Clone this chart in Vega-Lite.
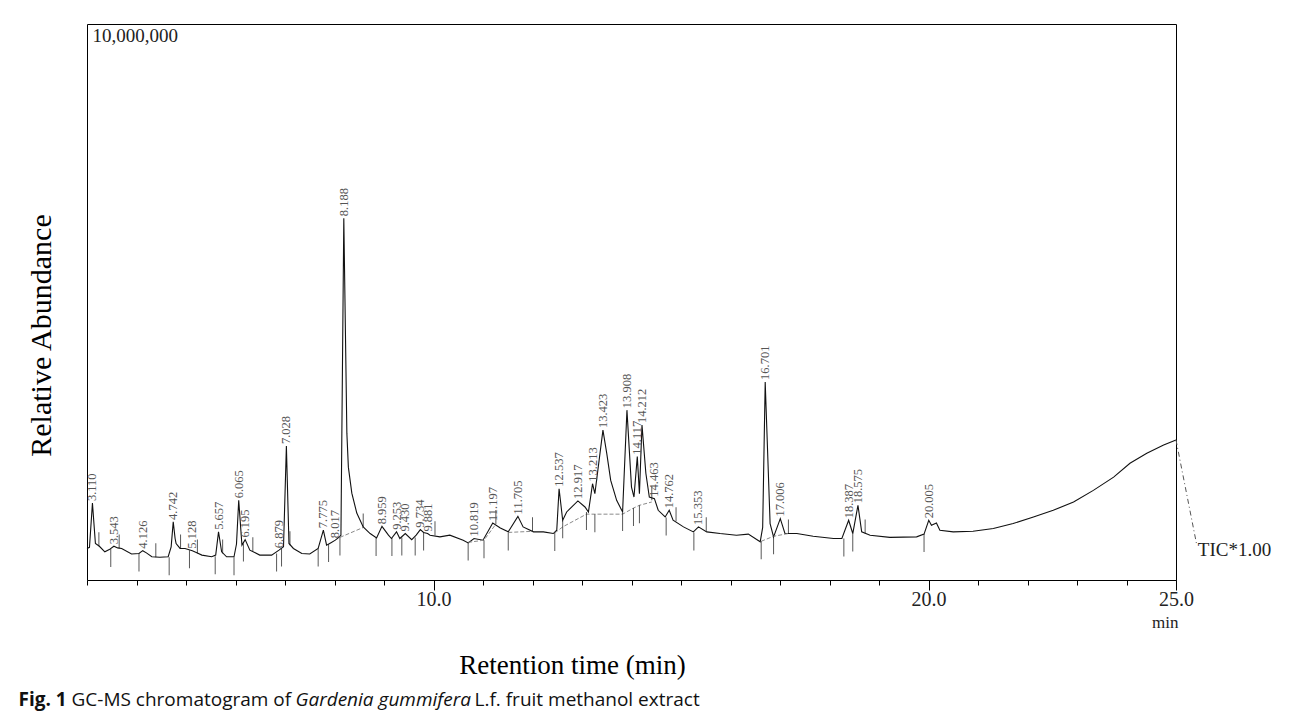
{
  "$schema": "https://vega.github.io/schema/vega-lite/v6.json",
  "width": 1089,
  "height": 556,
  "autosize": "none",
  "padding": {"left": 87, "top": 24, "right": 114, "bottom": 131},
  "background": "white",
  "config": {
    "view": {"stroke": "#000", "strokeWidth": 1},
    "axis": {"grid": false, "domain": false, "labelFlush": false, "tickColor": "#000", "labelColor": "#111", "titleColor": "#000", "labelFont": "Liberation Serif", "titleFont": "Liberation Serif", "titleFontWeight": "normal"}
  },
  "datasets": {
    "trace": [
      {"t":3.00,"v":0.52},{"t":3.05,"v":0.54},{"t":3.11,"v":1.34},{"t":3.17,"v":0.61},{"t":3.25,"v":0.56},{"t":3.36,"v":0.46},{"t":3.45,"v":0.50},{"t":3.543,"v":0.56},{"t":3.62,"v":0.53},{"t":3.70,"v":0.52},{"t":3.90,"v":0.42},{"t":4.05,"v":0.43},{"t":4.126,"v":0.48},{"t":4.20,"v":0.44},{"t":4.31,"v":0.37},{"t":4.47,"v":0.36},{"t":4.64,"v":0.37},{"t":4.70,"v":0.55},{"t":4.742,"v":1.00},{"t":4.78,"v":0.70},{"t":4.80,"v":0.61},{"t":4.88,"v":0.52},{"t":4.98,"v":0.52},{"t":5.128,"v":0.48},{"t":5.23,"v":0.44},{"t":5.32,"v":0.40},{"t":5.52,"v":0.37},{"t":5.60,"v":0.40},{"t":5.657,"v":0.82},{"t":5.72,"v":0.46},{"t":5.82,"v":0.37},{"t":5.97,"v":0.37},{"t":6.02,"v":0.60},{"t":6.065,"v":1.39},{"t":6.13,"v":0.58},{"t":6.195,"v":0.68},{"t":6.29,"v":0.49},{"t":6.49,"v":0.40},{"t":6.73,"v":0.40},{"t":6.879,"v":0.49},{"t":6.97,"v":0.55},{"t":7.028,"v":2.37},{"t":7.08,"v":0.61},{"t":7.17,"v":0.52},{"t":7.34,"v":0.43},{"t":7.50,"v":0.42},{"t":7.67,"v":0.52},{"t":7.775,"v":0.85},{"t":7.84,"v":0.58},{"t":7.92,"v":0.62},{"t":8.017,"v":0.67},{"t":8.10,"v":0.73},{"t":8.13,"v":0.76},{"t":8.188,"v":6.49},{"t":8.25,"v":2.60},{"t":8.28,"v":1.99},{"t":8.35,"v":1.52},{"t":8.45,"v":1.16},{"t":8.58,"v":0.91},{"t":8.72,"v":0.79},{"t":8.85,"v":0.71},{"t":8.959,"v":0.92},{"t":9.09,"v":0.76},{"t":9.15,"v":0.70},{"t":9.253,"v":0.82},{"t":9.32,"v":0.70},{"t":9.43,"v":0.79},{"t":9.56,"v":0.68},{"t":9.65,"v":0.76},{"t":9.734,"v":0.86},{"t":9.80,"v":0.81},{"t":9.881,"v":0.79},{"t":9.93,"v":0.76},{"t":10.13,"v":0.73},{"t":10.33,"v":0.76},{"t":10.60,"v":0.67},{"t":10.70,"v":0.62},{"t":10.819,"v":0.70},{"t":11.00,"v":0.67},{"t":11.197,"v":0.98},{"t":11.35,"v":0.89},{"t":11.51,"v":0.82},{"t":11.705,"v":1.10},{"t":11.81,"v":0.91},{"t":12.02,"v":0.82},{"t":12.22,"v":0.82},{"t":12.42,"v":0.79},{"t":12.49,"v":0.85},{"t":12.537,"v":1.60},{"t":12.61,"v":1.03},{"t":12.69,"v":1.18},{"t":12.917,"v":1.38},{"t":13.06,"v":1.27},{"t":13.13,"v":1.18},{"t":13.213,"v":1.69},{"t":13.26,"v":1.51},{"t":13.423,"v":2.66},{"t":13.50,"v":2.24},{"t":13.58,"v":1.75},{"t":13.70,"v":1.39},{"t":13.82,"v":1.18},{"t":13.908,"v":3.02},{"t":14.00,"v":1.63},{"t":14.05,"v":1.45},{"t":14.117,"v":2.18},{"t":14.16,"v":1.51},{"t":14.212,"v":2.75},{"t":14.29,"v":1.88},{"t":14.36,"v":1.45},{"t":14.463,"v":1.42},{"t":14.54,"v":1.21},{"t":14.68,"v":1.09},{"t":14.762,"v":1.21},{"t":14.84,"v":1.03},{"t":15.05,"v":0.91},{"t":15.25,"v":0.82},{"t":15.353,"v":0.91},{"t":15.52,"v":0.82},{"t":15.79,"v":0.79},{"t":16.12,"v":0.76},{"t":16.36,"v":0.78},{"t":16.60,"v":0.64},{"t":16.65,"v":0.90},{"t":16.701,"v":3.53},{"t":16.80,"v":0.97},{"t":16.87,"v":0.73},{"t":17.006,"v":1.06},{"t":17.10,"v":0.79},{"t":17.34,"v":0.79},{"t":17.67,"v":0.74},{"t":18.08,"v":0.70},{"t":18.25,"v":0.70},{"t":18.387,"v":1.03},{"t":18.47,"v":0.79},{"t":18.575,"v":1.30},{"t":18.65,"v":0.82},{"t":18.82,"v":0.76},{"t":19.22,"v":0.72},{"t":19.76,"v":0.73},{"t":19.91,"v":0.78},{"t":20.005,"v":1.03},{"t":20.06,"v":0.94},{"t":20.16,"v":0.98},{"t":20.23,"v":0.85},{"t":20.50,"v":0.82},{"t":20.90,"v":0.83},{"t":21.31,"v":0.88},{"t":21.71,"v":0.97},{"t":22.12,"v":1.09},{"t":22.52,"v":1.21},{"t":22.93,"v":1.36},{"t":23.33,"v":1.57},{"t":23.74,"v":1.81},{"t":24.07,"v":2.06},{"t":24.41,"v":2.24},{"t":24.75,"v":2.39},{"t":25.00,"v":2.48}
    ],
    "peaks": [
      {"t":3.110,"v":1.34},{"t":3.543,"v":0.56},{"t":4.126,"v":0.48},{"t":4.742,"v":1.00},{"t":5.128,"v":0.48},{"t":5.657,"v":0.82},{"t":6.065,"v":1.39},{"t":6.195,"v":0.68},{"t":6.879,"v":0.49},{"t":7.028,"v":2.37},{"t":7.775,"v":0.85},{"t":8.017,"v":0.67},{"t":8.188,"v":6.49},{"t":8.959,"v":0.92},{"t":9.253,"v":0.82},{"t":9.430,"v":0.79},{"t":9.734,"v":0.86},{"t":9.881,"v":0.79},{"t":10.819,"v":0.70},{"t":11.197,"v":0.98},{"t":11.705,"v":1.10},{"t":12.537,"v":1.60},{"t":12.917,"v":1.38},{"t":13.213,"v":1.69},{"t":13.423,"v":2.66},{"t":13.908,"v":3.02},{"t":14.117,"v":2.18},{"t":14.212,"v":2.75},{"t":14.463,"v":1.42},{"t":14.762,"v":1.21},{"t":15.353,"v":0.91},{"t":16.701,"v":3.53},{"t":17.006,"v":1.06},{"t":18.387,"v":1.03},{"t":18.575,"v":1.30},{"t":20.005,"v":1.03}
    ],
    "bounds": [
      {"t":3.24,"v":0.56,"dir":"up"},{"t":3.48,"v":0.51,"dir":"down"},{"t":3.65,"v":0.52,"dir":"up"},{"t":4.05,"v":0.43,"dir":"down"},{"t":4.39,"v":0.36,"dir":"up"},{"t":4.66,"v":0.36,"dir":"down"},{"t":4.89,"v":0.52,"dir":"up"},{"t":5.07,"v":0.49,"dir":"down"},{"t":5.23,"v":0.43,"dir":"up"},{"t":5.59,"v":0.38,"dir":"down"},{"t":5.74,"v":0.43,"dir":"up"},{"t":5.97,"v":0.36,"dir":"down"},{"t":6.16,"v":0.61,"dir":"down"},{"t":6.35,"v":0.47,"dir":"up"},{"t":6.83,"v":0.43,"dir":"down"},{"t":6.93,"v":0.52,"dir":"down"},{"t":7.10,"v":0.58,"dir":"up"},{"t":7.67,"v":0.52,"dir":"down"},{"t":7.88,"v":0.60,"dir":"down"},{"t":8.11,"v":0.72,"dir":"down"},{"t":8.58,"v":0.90,"dir":"up"},{"t":8.84,"v":0.71,"dir":"down"},{"t":9.16,"v":0.71,"dir":"down"},{"t":9.36,"v":0.72,"dir":"down"},{"t":9.63,"v":0.72,"dir":"down"},{"t":9.80,"v":0.81,"dir":"down"},{"t":10.03,"v":0.76,"dir":"up"},{"t":10.70,"v":0.63,"dir":"down"},{"t":11.02,"v":0.67,"dir":"down"},{"t":11.26,"v":0.96,"dir":"up"},{"t":11.51,"v":0.81,"dir":"down"},{"t":12.00,"v":0.83,"dir":"up"},{"t":12.45,"v":0.80,"dir":"down"},{"t":12.61,"v":1.03,"dir":"down"},{"t":13.09,"v":1.18,"dir":"down"},{"t":13.26,"v":1.14,"dir":"down"},{"t":13.82,"v":1.16,"dir":"down"},{"t":14.04,"v":1.25,"dir":"down"},{"t":14.16,"v":1.30,"dir":"down"},{"t":14.41,"v":1.39,"dir":"up"},{"t":14.70,"v":1.08,"dir":"down"},{"t":14.90,"v":1.01,"dir":"up"},{"t":15.26,"v":0.81,"dir":"down"},{"t":15.51,"v":0.83,"dir":"up"},{"t":16.62,"v":0.65,"dir":"down"},{"t":16.87,"v":0.74,"dir":"down"},{"t":17.17,"v":0.79,"dir":"up"},{"t":18.29,"v":0.70,"dir":"down"},{"t":18.47,"v":0.79,"dir":"down"},{"t":18.72,"v":0.79,"dir":"up"},{"t":19.91,"v":0.78,"dir":"down"}
    ],
    "baseline": [
      {"seg":"a","t":8.11,"v":0.72},{"seg":"a","t":8.58,"v":0.90},
      {"seg":"b","t":12.45,"v":0.80},{"seg":"b","t":12.61,"v":0.91},{"seg":"b","t":13.09,"v":1.14},{"seg":"b","t":13.26,"v":1.14},{"seg":"b","t":13.82,"v":1.14},{"seg":"b","t":14.04,"v":1.25},{"seg":"b","t":14.16,"v":1.30},{"seg":"b","t":14.41,"v":1.36},
      {"seg":"c","t":11.51,"v":0.81},{"seg":"c","t":12.00,"v":0.83},
      {"seg":"d","t":10.70,"v":0.63},{"seg":"d","t":11.02,"v":0.67},{"seg":"d","t":11.26,"v":0.96},
      {"seg":"e","t":16.62,"v":0.65},{"seg":"e","t":16.87,"v":0.74},{"seg":"e","t":17.17,"v":0.79}
    ],
    "tic": [
      {"t":25.00,"v":2.48},{"t":25.42,"v":0.58}
    ],
    "ticlabel": [
      {"t":25.44,"v":0.50,"label":"TIC*1.00"}
    ]
  },
  "resolve": {"axis": {"x": "independent", "y": "independent"}},
  "layer": [
    {
      "data": {"name": "trace"},
      "mark": {"type": "line", "color": "#111", "strokeWidth": 1.1, "interpolate": "linear"},
      "encoding": {
        "x": {"field": "t", "type": "quantitative", "scale": {"domain": [3, 25], "nice": false, "zero": false},
              "axis": {"orient": "bottom", "values": [3,4,5,6,7,8,9,10,11,12,13,14,15,16,17,18,19,20,21,22,23,24,25], "tickSize": 5, "labels": false, "title": null}},
        "y": {"field": "v", "type": "quantitative", "scale": {"domain": [-0.05, 10], "nice": false, "zero": false},
              "axis": {"orient": "left", "values": [10], "labelExpr": "'10,000,000'", "ticks": false, "tickSize": 0, "labelAlign": "left", "labelBaseline": "top", "labelPadding": -5, "labelOffset": 2, "labelFontSize": 19, "labelColor": "#222",
                       "title": "Relative Abundance", "titleFontSize": 30, "titleAngle": 270, "titleAlign": "center", "titleBaseline": "middle", "titleX": -46, "titleY": 311}}
      }
    },
    {
      "data": {"name": "baseline"},
      "mark": {"type": "line", "color": "#8a8a8a", "strokeWidth": 1, "strokeDash": [4, 2]},
      "encoding": {
        "detail": {"field": "seg"},
        "x": {"field": "t", "type": "quantitative",
              "axis": {"orient": "bottom", "values": [10, 20, 25], "tickSize": 10, "format": ".1f", "labelFontSize": 20, "labelPadding": -1, "labelBaseline": "top", "labelColor": "#222",
                       "title": "Retention time (min)", "titleFontSize": 27, "titleX": 485, "titleY": 93, "titleAlign": "center", "titleBaseline": "alphabetic"}},
        "y": {"field": "v", "type": "quantitative", "axis": null}
      }
    },
    {
      "data": {"name": "bounds"},
      "transform": [{"filter": "datum.dir == 'down'"}],
      "mark": {"type": "tick", "orient": "vertical", "size": 18, "thickness": 1, "yOffset": 9, "color": "#111"},
      "encoding": {
        "x": {"field": "t", "type": "quantitative",
              "axis": {"orient": "bottom", "values": [25], "labelExpr": "'min'", "ticks": false, "tickSize": 0, "labelAlign": "right", "labelBaseline": "alphabetic", "labelPadding": 47, "labelOffset": 2, "labelFontSize": 17, "labelColor": "#222", "title": null}},
        "y": {"field": "v", "type": "quantitative", "axis": null}
      }
    },
    {
      "data": {"name": "bounds"},
      "transform": [{"filter": "datum.dir == 'up'"}],
      "mark": {"type": "tick", "orient": "vertical", "size": 14, "thickness": 1, "yOffset": -7, "color": "#111"},
      "encoding": {
        "x": {"field": "t", "type": "quantitative",
              "axis": {"orient": "bottom", "labels": false, "ticks": false, "values": [], "title": "Fig. 1", "titleFont": "Open Sans", "titleFontWeight": "bold", "titleFontSize": 19, "titleColor": "#111", "titleX": -69, "titleY": 125, "titleAlign": "left", "titleBaseline": "alphabetic"}},
        "y": {"field": "v", "type": "quantitative", "axis": null}
      }
    },
    {
      "data": {"name": "peaks"},
      "mark": {"type": "text", "angle": 270, "align": "left", "baseline": "middle", "dx": 2, "font": "Liberation Serif", "fontSize": 12.5, "color": "#555"},
      "encoding": {
        "x": {"field": "t", "type": "quantitative",
              "axis": {"orient": "bottom", "labels": false, "ticks": false, "values": [], "title": "GC-MS chromatogram of", "titleFont": "Open Sans", "titleFontWeight": "normal", "titleFontSize": 19, "titleColor": "#111", "titleX": -16, "titleY": 125, "titleAlign": "left", "titleBaseline": "alphabetic"}},
        "y": {"field": "v", "type": "quantitative", "axis": null},
        "text": {"field": "t", "type": "quantitative", "format": ".3f"}
      }
    },
    {
      "data": {"name": "tic"},
      "mark": {"type": "line", "color": "#555", "strokeWidth": 1, "strokeDash": [5, 3, 1, 3]},
      "encoding": {
        "x": {"field": "t", "type": "quantitative",
              "axis": {"orient": "bottom", "labels": false, "ticks": false, "values": [], "title": "Gardenia gummifera", "titleFont": "Open Sans", "titleFontWeight": "normal", "titleFontStyle": "italic", "titleFontSize": 19, "titleColor": "#111", "titleX": 208, "titleY": 125, "titleAlign": "left", "titleBaseline": "alphabetic"}},
        "y": {"field": "v", "type": "quantitative", "axis": null}
      }
    },
    {
      "data": {"name": "ticlabel"},
      "mark": {"type": "text", "align": "left", "baseline": "middle", "font": "Liberation Serif", "fontSize": 19, "color": "#222"},
      "encoding": {
        "x": {"field": "t", "type": "quantitative",
              "axis": {"orient": "bottom", "labels": false, "ticks": false, "values": [], "title": "L.f. fruit methanol extract", "titleFont": "Open Sans", "titleFontWeight": "normal", "titleFontSize": 19, "titleColor": "#111", "titleX": 387, "titleY": 125, "titleAlign": "left", "titleBaseline": "alphabetic"}},
        "y": {"field": "v", "type": "quantitative", "axis": null},
        "text": {"field": "label"}
      }
    }
  ]
}
